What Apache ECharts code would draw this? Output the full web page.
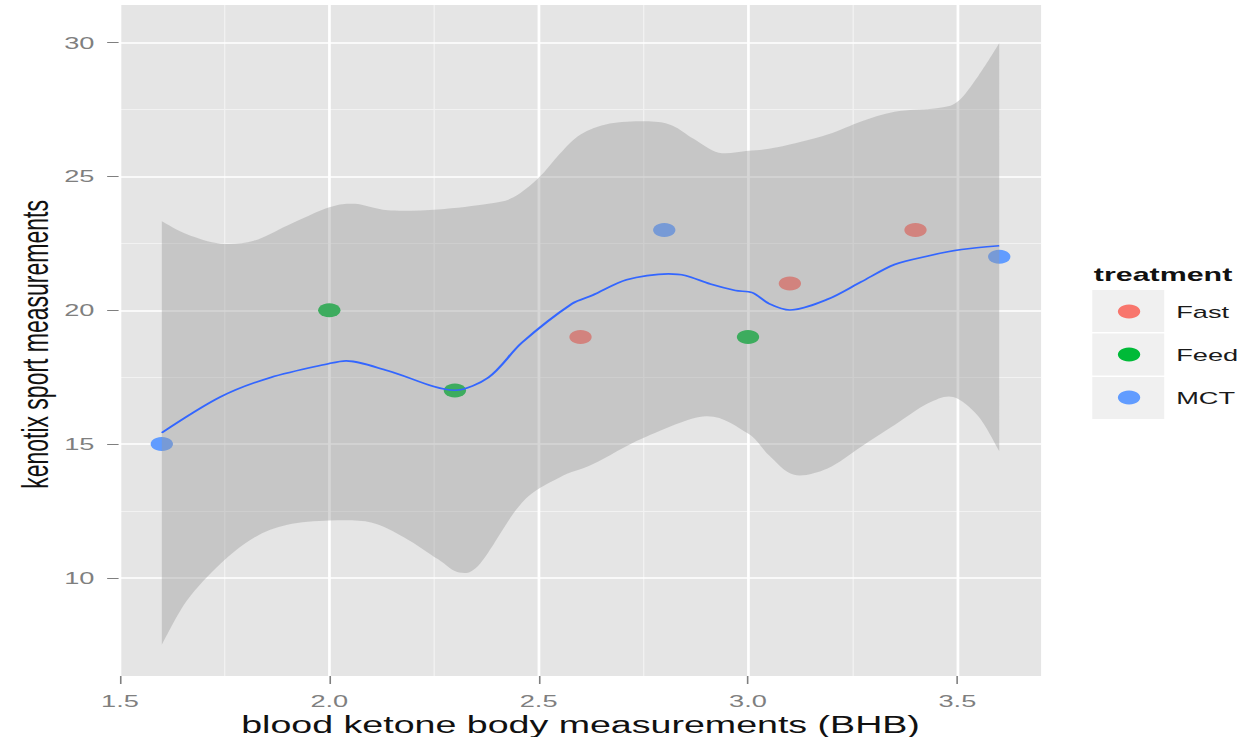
<!DOCTYPE html>
<html>
<head>
<meta charset="utf-8">
<script src="https://cdn.jsdelivr.net/npm/echarts@6/dist/echarts.min.js"></script>
<style>
  html, body { margin: 0; padding: 0; background: #ffffff; overflow: hidden; }
  #wrap { width: 1249px; height: 737px; overflow: hidden; }
  #chart { width: 781px; height: 737px; transform: scaleX(1.59923); transform-origin: 0 0; }
</style>
</head>
<body>
<div id="wrap"><div id="chart"></div></div>
<script>
// ---- data ----
const xTicks = [1.5, 2.0, 2.5, 3.0, 3.5];
const yTicks = [10, 15, 20, 25, 30];
const xMinorBreaks = [1.75, 2.25, 2.75, 3.25];
const yMinorBreaks = [12.5, 17.5, 22.5, 27.5];

const treatments = ['Fast', 'Feed', 'MCT'];
const fastX = [2.6, 3.1, 3.4];
const fastY = [19, 21, 23];
const feedX = [2.0, 2.3, 3.0];
const feedY = [20, 17, 19];
const mctX = [1.6, 2.8, 3.6];
const mctY = [15, 23, 22];

const smoothX = [1.60, 1.74, 1.86, 2.00, 2.04, 2.14, 2.30, 2.38, 2.46, 2.58, 2.63, 2.71, 2.81, 2.85, 2.91, 2.97, 3.01, 3.05, 3.10, 3.19, 3.27, 3.35, 3.43, 3.51, 3.60];
const smoothY = [15.42, 16.76, 17.49, 18.01, 18.11, 17.74, 17.01, 17.49, 18.79, 20.25, 20.57, 21.14, 21.36, 21.30, 20.98, 20.74, 20.66, 20.25, 20.01, 20.41, 21.06, 21.71, 22.03, 22.27, 22.41];

const upperX = [1.60, 1.66, 1.74, 1.82, 1.90, 2.00, 2.06, 2.14, 2.26, 2.38, 2.44, 2.50, 2.55, 2.60, 2.67, 2.77, 2.82, 2.87, 2.93, 3.00, 3.07, 3.19, 3.27, 3.35, 3.45, 3.50, 3.55, 3.60];
const upperY = [23.33, 22.84, 22.49, 22.60, 23.17, 23.85, 23.98, 23.74, 23.77, 23.98, 24.22, 24.95, 25.84, 26.57, 26.98, 27.06, 26.90, 26.41, 25.89, 25.96, 26.09, 26.57, 27.06, 27.42, 27.55, 27.79, 28.76, 29.98];
const lowerX = [1.60, 1.66, 1.74, 1.82, 1.90, 2.00, 2.10, 2.18, 2.26, 2.31, 2.36, 2.46, 2.55, 2.63, 2.75, 2.90, 3.00, 3.05, 3.11, 3.19, 3.27, 3.35, 3.43, 3.49, 3.55, 3.60];
const lowerY = [7.50, 9.15, 10.53, 11.50, 11.98, 12.14, 12.07, 11.50, 10.69, 10.20, 10.53, 12.81, 13.75, 14.25, 15.23, 16.04, 15.39, 14.58, 13.85, 14.09, 14.90, 15.71, 16.52, 16.76, 16.04, 14.74];

// ---- helpers ----
const FONT = '"Liberation Sans", Arial, sans-serif';
function pairs(xs, ys) { return xs.map((x, i) => [x, ys[i]]); }

// Catmull-Rom through pixel points -> cubic bezier path segments
function curveThrough(pts, t) {
  let d = '';
  for (let i = 0; i < pts.length - 1; i++) {
    const p0 = pts[Math.max(0, i - 1)], p1 = pts[i], p2 = pts[i + 1], p3 = pts[Math.min(pts.length - 1, i + 2)];
    const c1 = [p1[0] + (p2[0] - p0[0]) * t, p1[1] + (p2[1] - p0[1]) * t];
    const c2 = [p2[0] - (p3[0] - p1[0]) * t, p2[1] - (p3[1] - p1[1]) * t];
    d += ' C' + c1[0].toFixed(2) + ',' + c1[1].toFixed(2) + ' ' + c2[0].toFixed(2) + ',' + c2[1].toFixed(2) + ' ' + p2[0].toFixed(2) + ',' + p2[1].toFixed(2);
  }
  return d;
}

const chart = echarts.init(document.getElementById('chart'), null, { renderer: 'svg' });

const gridLineStyleMajor = { color: '#ffffff', width: 1.7, type: 'solid' };
const gridLineStyleMinor = { color: '#f2f2f2', width: 0.8, type: 'solid' };

const option = {
  animation: false,
  backgroundColor: '#ffffff',
  grid: {
    left: 75, right: 130, top: 5, bottom: 61,
    containLabel: false, outerBoundsMode: 'none',
    show: true, backgroundColor: '#e5e5e5', borderWidth: 0
  },
  title: {
    text: 'treatment', left: 684, top: 265, padding: 0,
    textStyle: { fontFamily: FONT, fontSize: 19, fontWeight: 'bold', color: '#111111' }
  },
  legend: {
    data: treatments, orient: 'vertical', left: 699, top: 303, padding: 0,
    itemWidth: 49, itemHeight: 14, itemGap: 26, icon: 'circle', selectedMode: false,
    textStyle: { fontFamily: FONT, fontSize: 17, lineHeight: 17, color: '#1a1a1a' }
  },
  graphic: [
    { type: 'rect', left: 683, top: 290, shape: { width: 45, height: 42 }, style: { fill: '#f0f0f0' }, z: 0 },
    { type: 'rect', left: 683, top: 333.5, shape: { width: 45, height: 42 }, style: { fill: '#f0f0f0' }, z: 0 },
    { type: 'rect', left: 683, top: 377, shape: { width: 45, height: 42 }, style: { fill: '#f0f0f0' }, z: 0 }
  ],
  xAxis: {
    type: 'value', min: 1.5, max: 3.7, interval: 0.5,
    name: 'blood ketone body measurements (BHB)', nameLocation: 'middle', nameGap: 37, nameMoveOverlap: false,
    nameTextStyle: { fontFamily: FONT, fontSize: 23.5, color: '#111111' },
    axisLine: { show: false },
    axisTick: { show: true, length: 8, customValues: xTicks, lineStyle: { color: '#7f7f7f', width: 1 } },
    axisLabel: { customValues: xTicks, formatter: v => Number(v).toFixed(1), margin: 16, color: '#7f7f7f', fontSize: 17, fontFamily: FONT },
    splitLine: { show: false }
  },
  yAxis: {
    type: 'value', min: 6.33, max: 31.41,
    name: 'kenotix sport measurements', nameLocation: 'middle', nameGap: 42, nameMoveOverlap: false,
    nameTextStyle: { fontFamily: FONT, fontSize: 23, color: '#111111', padding: [0, 8, 0, 0] },
    axisLine: { show: false },
    axisTick: { show: true, length: 8, customValues: yTicks, lineStyle: { color: '#7f7f7f', width: 1 } },
    axisLabel: { customValues: yTicks, formatter: v => String(Math.round(v)), margin: 16, color: '#7f7f7f', fontSize: 17, fontFamily: FONT },
    splitLine: { show: false }
  },
  series: [
    {
      type: 'line', data: [], z: 1, silent: true,
      markLine: {
        z: 1, silent: true, symbol: ['none', 'none'], label: { show: false }, animation: false,
        lineStyle: gridLineStyleMinor,
        data: xMinorBreaks.map(v => ({ xAxis: v })).concat(yMinorBreaks.map(v => ({ yAxis: v })))
      }
    },
    {
      type: 'line', data: [], z: 1, silent: true,
      markLine: {
        z: 1, silent: true, symbol: ['none', 'none'], label: { show: false }, animation: false,
        lineStyle: gridLineStyleMajor,
        data: xTicks.map(v => ({ xAxis: v })).concat(yTicks.map(v => ({ yAxis: v })))
      }
    },
    { name: 'Fast', type: 'scatter', data: pairs(fastX, fastY), symbolSize: 14, z: 2, itemStyle: { color: '#F8766D', opacity: 1 } },
    { name: 'Feed', type: 'scatter', data: pairs(feedX, feedY), symbolSize: 14, z: 2, itemStyle: { color: '#00BA38', opacity: 1 } },
    { name: 'MCT', type: 'scatter', data: pairs(mctX, mctY), symbolSize: 14, z: 2, itemStyle: { color: '#619CFF', opacity: 1 } },
    {
      type: 'custom', z: 3, silent: true, clip: true,
      data: [[upperX[0], upperY[0]]],
      encode: { x: 0, y: 1 },
      renderItem: function (params, api) {
        const up = upperX.map((x, i) => api.coord([x, upperY[i]]));
        const lo = lowerX.map((x, i) => api.coord([x, lowerY[i]])).reverse();
        let d = 'M' + up[0][0].toFixed(2) + ',' + up[0][1].toFixed(2) + curveThrough(up, 0.16);
        d += ' L' + lo[0][0].toFixed(2) + ',' + lo[0][1].toFixed(2) + curveThrough(lo, 0.16) + ' Z';
        return {
          type: 'path',
          shape: { pathData: d },
          style: { fill: 'rgba(153,153,153,0.4)' }
        };
      }
    },
    {
      type: 'line', data: pairs(smoothX, smoothY), z: 4, silent: true,
      showSymbol: false, symbol: 'none', smooth: 0.3,
      lineStyle: { color: '#3366FF', width: 1.6 }
    }
  ]
};
chart.setOption(option);
</script>
</body>
</html>
